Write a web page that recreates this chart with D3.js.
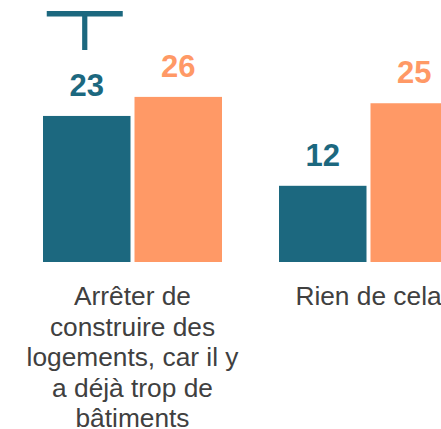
<!DOCTYPE html>
<html>
<head>
<meta charset="utf-8">
<script src="https://cdn.jsdelivr.net/npm/d3@7/dist/d3.min.js"></script>
<style>
  html, body { margin: 0; padding: 0; background: #fff; overflow: hidden; }
  svg { display: block; }
</style>
</head>
<body>
<svg id="chart" width="441" height="429"></svg>
<script>
// Categories (one label line per entry) and the two series
const categories = ["Arrêter de construire des logements, car il y a déjà trop de bâtiments", "Rien de cela"];
const categoryLines = [
  ["Arrêter de", "construire des", "logements, car il y", "a déjà trop de", "bâtiments"],
  ["Rien de cela"]
];
const seriesNames = ["A", "B"];
const seriesA = [23, 12];
const seriesB = [26, 25];
const seriesColors = ["#1c687f", "#ff9966"];

const svg = d3.select("#chart");
const baseline = 262;

// y: 0 at the baseline, about 6.35 px per unit
const y = d3.scaleLinear().domain([0, 40]).range([baseline, baseline - 254]);

// Groups: 236 px step, 179 px wide
const x0 = d3.scaleBand()
  .domain(categories)
  .range([14.5, 14.5 + 236 * categories.length])
  .paddingInner(57 / 236)
  .paddingOuter(57 / 236 / 2);

const x1 = d3.scaleBand()
  .domain(seriesNames)
  .range([0, x0.bandwidth()])
  .paddingInner(4 / 91.5)
  .paddingOuter(0);

const color = d3.scaleOrdinal().domain(seriesNames).range(seriesColors);

const rows = categories.map((c, i) => ({
  cat: c,
  lines: categoryLines[i],
  values: [
    { key: "A", value: seriesA[i] },
    { key: "B", value: seriesB[i] }
  ]
}));

const groups = svg.selectAll("g.group")
  .data(rows)
  .join("g")
  .attr("class", "group")
  .attr("transform", d => `translate(${x0(d.cat)},0)`);

groups.selectAll("rect")
  .data(d => d.values)
  .join("rect")
  .attr("x", d => x1(d.key))
  .attr("y", d => y(d.value))
  .attr("width", x1.bandwidth())
  .attr("height", d => y(0) - y(d.value))
  .attr("fill", d => color(d.key));

// Value labels above the bars
groups.selectAll("text.value")
  .data(d => d.values)
  .join("text")
  .attr("class", "value")
  .attr("x", d => x1(d.key) + x1.bandwidth() / 2)
  .attr("y", d => y(d.value) - 20)
  .attr("text-anchor", "middle")
  .attr("font-family", "'Liberation Sans', Arial, sans-serif")
  .attr("font-weight", "bold")
  .attr("font-size", 31)
  .attr("fill", d => color(d.key))
  .text(d => d.value);

// Category labels under each group
groups.append("text")
  .attr("class", "cat")
  .attr("text-anchor", "middle")
  .attr("font-family", "'Liberation Sans', Arial, sans-serif")
  .attr("font-size", 26.3)
  .attr("fill", "#404040")
  .selectAll("tspan")
  .data(d => d.lines)
  .join("tspan")
  .attr("x", x0.bandwidth() / 2)
  .attr("y", (d, i) => 305 + i * 30.6)
  .text(d => d);

// T-shaped marker above the first teal bar
const mx = x0(categories[0]) + x1("A") + x1.bandwidth() / 2 - 2;
const marker = svg.append("g").attr("fill", seriesColors[0]);
marker.append("rect").attr("x", mx - 38).attr("y", 11).attr("width", 76).attr("height", 5.5);
marker.append("rect").attr("x", mx - 2.6).attr("y", 14).attr("width", 5.2).attr("height", 36);
</script>
</body>
</html>
